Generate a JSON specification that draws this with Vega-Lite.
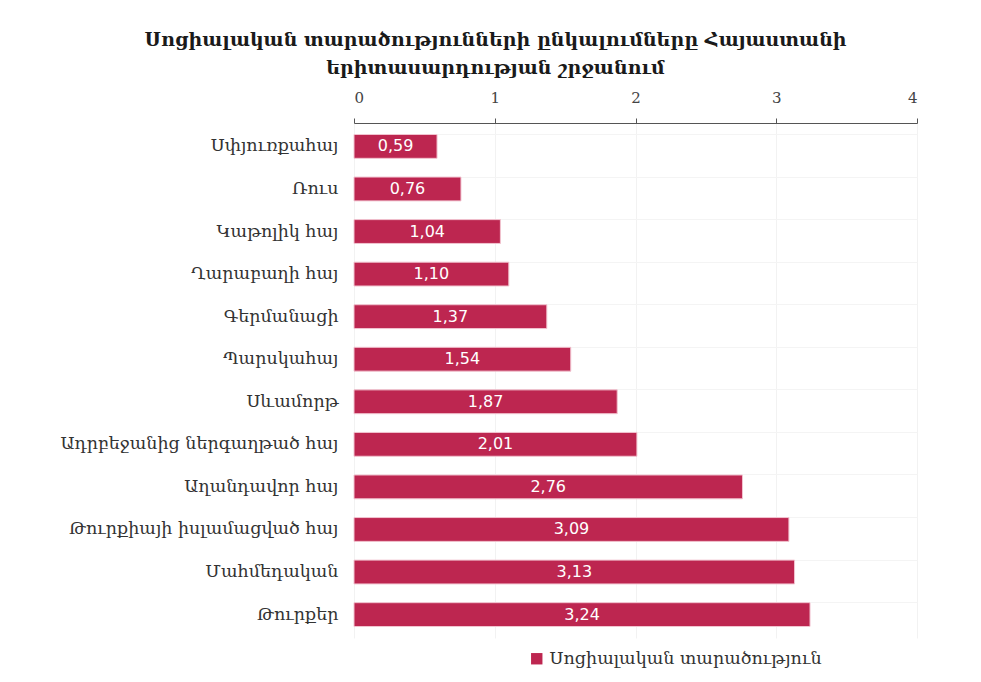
{
  "$schema": "https://vega.github.io/schema/vega-lite/v6.json",
  "autosize": "none",
  "width": 563,
  "height": 515,
  "padding": {"left": 354, "top": 123, "right": 64, "bottom": 44},
  "background": "white",
  "config": {
    "locale": {"number": {"decimal": ",", "thousands": " ", "grouping": [3], "currency": ["", ""]}},
    "view": {"stroke": null},
    "font": "DejaVu Serif"
  },
  "title": {
    "text": ["Սոցիալական տարածությունների ընկալումները Հայաստանի", "երիտասարդության շրջանում"],
    "font": "DejaVu Serif",
    "fontSize": 19,
    "fontWeight": "bold",
    "color": "#1a1a1a",
    "anchor": "middle",
    "frame": "group",
    "dx": -140,
    "offset": 12,
    "lineHeight": 28
  },
  "data": {
    "values": [
      {"group": "Սփյուռքահայ", "value": 0.59, "series": "Սոցիալական տարածություն"},
      {"group": "Ռուս", "value": 0.76, "series": "Սոցիալական տարածություն"},
      {"group": "Կաթոլիկ հայ", "value": 1.04, "series": "Սոցիալական տարածություն"},
      {"group": "Ղարաբաղի հայ", "value": 1.10, "series": "Սոցիալական տարածություն"},
      {"group": "Գերմանացի", "value": 1.37, "series": "Սոցիալական տարածություն"},
      {"group": "Պարսկահայ", "value": 1.54, "series": "Սոցիալական տարածություն"},
      {"group": "Սևամորթ", "value": 1.87, "series": "Սոցիալական տարածություն"},
      {"group": "Ադրբեջանից ներգաղթած հայ", "value": 2.01, "series": "Սոցիալական տարածություն"},
      {"group": "Աղանդավոր հայ", "value": 2.76, "series": "Սոցիալական տարածություն"},
      {"group": "Թուրքիայի իսլամացված հայ", "value": 3.09, "series": "Սոցիալական տարածություն"},
      {"group": "Մահմեդական", "value": 3.13, "series": "Սոցիալական տարածություն"},
      {"group": "Թուրքեր", "value": 3.24, "series": "Սոցիալական տարածություն"}
    ]
  },
  "encoding": {
    "y": {
      "field": "group",
      "type": "nominal",
      "sort": null,
      "scale": {"paddingInner": 0.44, "paddingOuter": 0.27},
      "axis": {
        "title": null,
        "ticks": false,
        "domain": false,
        "grid": true,
        "gridColor": "#f4f4f4",
        "gridWidth": 1,
        "bandPosition": 0,
        "labelFont": "DejaVu Serif",
        "labelFontSize": 17.5,
        "labelColor": "#333333",
        "labelPadding": 16,
        "labelLimit": 400
      }
    }
  },
  "layer": [
    {
      "mark": {"type": "bar", "stroke": "#f2c4d0", "strokeWidth": 1},
      "encoding": {
        "x": {
          "field": "value",
          "type": "quantitative",
          "scale": {"domain": [0, 4], "nice": false},
          "axis": {
            "orient": "top",
            "title": null,
            "values": [0, 1, 2, 3, 4],
            "grid": true,
            "gridColor": "#f2f2f2",
            "domainColor": "#555555",
            "tickColor": "#555555",
            "tickSize": 5,
            "labelFont": "DejaVu Serif",
            "labelFontSize": 15,
            "labelColor": "#444444",
            "labelPadding": 13,
            "format": "d"
          }
        },
        "color": {
          "field": "series",
          "type": "nominal",
          "scale": {"range": ["#bd2650"]},
          "legend": {
            "title": null,
            "orient": "none",
            "legendX": 174,
            "legendY": 527,
            "symbolType": "square",
            "symbolSize": 130,
            "symbolStrokeWidth": 0,
            "labelFont": "DejaVu Serif",
            "labelFontSize": 17.5,
            "labelColor": "#333333",
            "labelOffset": 4,
            "labelLimit": 500
          }
        }
      }
    },
    {
      "transform": [{"calculate": "datum.value / 2", "as": "labelPos"}],
      "mark": {"type": "text", "color": "white", "font": "DejaVu Sans", "fontSize": 16, "align": "center", "baseline": "middle"},
      "encoding": {
        "x": {"field": "labelPos", "type": "quantitative"},
        "text": {"field": "value", "type": "quantitative", "format": ".2f"}
      }
    }
  ]
}
